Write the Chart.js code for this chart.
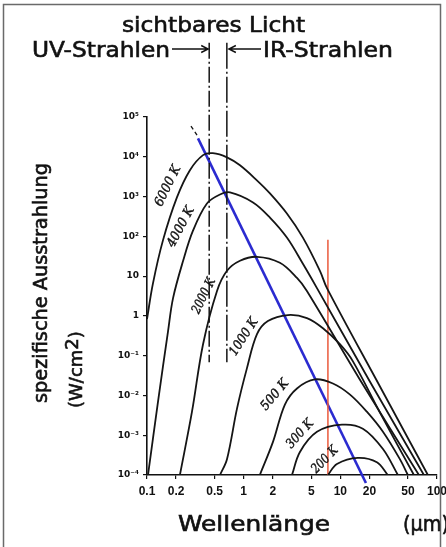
<!DOCTYPE html>
<html>
<head>
<meta charset="utf-8">
<script src="https://cdn.jsdelivr.net/npm/chart.js@4.4.1/dist/chart.umd.min.js"></script>
<style>
  html, body { margin: 0; padding: 0; background: #fff; }
  canvas { display: block; }
</style>
</head>
<body>
<canvas id="chart" width="446" height="547"></canvas>
<script>
// Axis ticks
const xTicks = [0.1, 0.2, 0.5, 1, 2, 5, 10, 20, 50, 100];
const xTickLabels = ["0.1", "0.2", "0.5", "1", "2", "5", "10", "20", "50", "100"];
const yTicks = [1e-4, 1e-3, 1e-2, 1e-1, 1, 10, 1e2, 1e3, 1e4, 1e5];
const yTickLabels = ["10⁻⁴", "10⁻³", "10⁻²", "10⁻¹", "1", "10", "10²", "10³", "10⁴", "10⁵"];

// Temperature labels of the curves
const temps = ["6000 K", "4000 K", "2000 K", "1000 K", "500 K", "300 K", "200 K"];

// Wavelength (µm) and spectral exitance (W/cm²)
const wl6000 = [0.1, 0.115, 0.146, 0.204, 0.278, 0.38, 0.48, 0.672, 0.916, 1.37, 1.87, 2.8, 4.1, 6.15, 7.27, 25.7, 80.5];
const val6000 = [0.83, 6.4, 78, 950, 4600, 1.1e4, 1.23e4, 9.7e3, 6.1e3, 2560, 1200, 374, 93, 13.6, 5.0, 0.0168, 1e-4];
const wl4000 = [0.1024, 0.13, 0.165, 0.186, 0.236, 0.299, 0.417, 0.569, 0.722, 1.25, 1.87, 2.8, 4.1, 5.73, 20.2, 73.2];
const val4000 = [1e-4, 0.007, 0.41, 2.8, 24, 139, 670, 1130, 1270, 710, 296, 93, 20.4, 5.0, 0.0225, 1e-4];
const wl2000 = [0.219, 0.292, 0.38, 0.53, 0.672, 0.916, 1.373, 2.37, 3.56, 4.51, 15.9, 65];
const val2000 = [1e-4, 0.0039, 0.194, 4.24, 13.6, 24.3, 30.6, 21.6, 9.0, 4.24, 0.0253, 1e-4];
const wl1000 = [0.569, 0.672, 0.853, 1.08, 1.373, 1.78, 2.87, 4.51, 6.61, 9.9, 13.5, 25.7, 57.7];
const val1000 = [1e-4, 2.5e-4, 0.00467, 0.0479, 0.347, 0.74, 1.05, 0.88, 0.49, 0.194, 0.072, 0.0037, 1e-4];
const wl500 = [1.47, 2.01, 2.67, 3.56, 5.46, 8.38, 12.6, 18.8, 27.6, 41.3, 50];
const val500 = [1e-4, 6.8e-4, 0.0059, 0.015, 0.0253, 0.02, 0.0105, 0.0039, 0.00122, 2.5e-4, 1e-4];
const wl300 = [3.16, 3.82, 5.73, 10.4, 17.1, 27.6, 39.4];
const val300 = [1e-4, 3.8e-4, 0.00122, 0.00184, 0.00146, 4.5e-4, 1e-4];
const wl200 = [7.44, 9.22, 15.2, 23.9, 31];
const val200 = [1e-4, 1.9e-4, 2.7e-4, 2.1e-4, 1e-4];

// Wien displacement line (blue) and its dashed start
const wienWl = [0.337, 18.4];
const wienVal = [2.9e4, 6.3e-5];
const wienDashWl = [0.285, 0.329];
const wienDashVal = [5.9e4, 3.5e4];

// Bounds of visible light (dash-dot verticals)
const visibleWl = [0.44, 0.67];
const visibleRange = [7.4e6, 0.068];

// Red marker line
const markerWl = 7.44;
const markerRange = [82, 1e-4];

const pts = (xs, ys) => xs.map((x, i) => ({ x: x, y: ys[i] }));

function curve(xs, ys) {
  return {
    data: pts(xs, ys),
    borderColor: "#151515",
    borderWidth: 1.8,
    pointRadius: 0,
    tension: 0.35,
  };
}

const datasets = [
  curve(wl6000, val6000),
  curve(wl4000, val4000),
  curve(wl2000, val2000),
  curve(wl1000, val1000),
  curve(wl500, val500),
  curve(wl300, val300),
  curve(wl200, val200),
  {
    data: pts([visibleWl[0], visibleWl[0]], visibleRange),
    borderColor: "#151515", borderWidth: 1.5, pointRadius: 0,
    borderDash: [16, 3, 2, 3], clip: false,
  },
  {
    data: pts([visibleWl[1], visibleWl[1]], visibleRange),
    borderColor: "#151515", borderWidth: 1.5, pointRadius: 0,
    borderDash: [26, 3, 2, 3], clip: false,
  },
  {
    data: pts([markerWl, markerWl], markerRange),
    borderColor: "#ea5a3c", borderWidth: 1.5, pointRadius: 0, clip: false,
  },
  {
    data: pts(wienDashWl, wienDashVal),
    borderColor: "#151515", borderWidth: 1.3, pointRadius: 0,
    borderDash: [4, 3], clip: false,
  },
  {
    data: pts(wienWl, wienVal),
    borderColor: "#2b2bd0", borderWidth: 2.6, pointRadius: 0, clip: false,
  },
];

// Draw text stretched to a given width, slightly emboldened like the scan
function fitText(ctx, text, x, y, width, font) {
  ctx.save();
  ctx.font = font;
  const s = width / ctx.measureText(text).width;
  ctx.translate(x, y);
  ctx.scale(s, 1);
  ctx.lineWidth = 0.6;
  ctx.fillText(text, 0, 0);
  ctx.strokeText(text, 0, 0);
  ctx.restore();
}

function arrow(ctx, x1, x2, y) {
  const dir = Math.sign(x2 - x1);
  ctx.beginPath();
  ctx.moveTo(x1, y);
  ctx.lineTo(x2, y);
  ctx.moveTo(x2 - dir * 7, y - 3.5);
  ctx.lineTo(x2, y);
  ctx.lineTo(x2 - dir * 7, y + 3.5);
  ctx.stroke();
}

// [px, py, angle in degrees, width] for the temperature labels
const tempLabelPos = [
  [168, 186, -64, 44],
  [181, 227, -62, 44],
  [204, 296, -64, 38],
  [244, 337, -57, 42],
  [275, 395, -50, 36],
  [300, 434, -48, 34],
  [325, 460, -46, 32],
];

const annotations = {
  id: "annotations",
  afterDraw(chart) {
    const ctx = chart.ctx;
    const xs = chart.scales.x;

    // frame
    ctx.save();
    ctx.strokeStyle = "#6a6a6a";
    ctx.lineWidth = 1.5;
    ctx.beginPath();
    ctx.moveTo(3.5, 547);
    ctx.lineTo(3.5, 4.5);
    ctx.lineTo(440.5, 4.5);
    ctx.lineTo(440.5, 547);
    ctx.stroke();
    ctx.restore();

    ctx.save();
    ctx.fillStyle = "#111";
    ctx.strokeStyle = "#111";
    ctx.lineWidth = 1.4;
    ctx.textBaseline = "alphabetic";
    ctx.textAlign = "left";

    fitText(ctx, "sichtbares Licht", 122, 32, 183, "21px 'DejaVu Sans'");
    fitText(ctx, "UV-Strahlen", 32, 57, 138, "21px 'DejaVu Sans'");
    fitText(ctx, "IR-Strahlen", 263, 57, 130, "21px 'DejaVu Sans'");
    const xl = xs.getPixelForValue(visibleWl[0]);
    const xr = xs.getPixelForValue(visibleWl[1]);
    ctx.lineWidth = 1.4;
    arrow(ctx, 172, xl - 1, 49);
    arrow(ctx, 261, xr + 2, 49);

    // y title, two rotated lines
    ctx.save();
    ctx.translate(47, 403);
    ctx.rotate(-Math.PI / 2);
    fitText(ctx, "spezifische Ausstrahlung", 0, 0, 240, "19px 'DejaVu Sans'");
    ctx.restore();
    ctx.save();
    ctx.translate(82, 408);
    ctx.rotate(-Math.PI / 2);
    ctx.font = "18px 'DejaVu Sans'";
    ctx.lineWidth = 0.6;
    const w1 = ctx.measureText("(W/cm").width;
    const w2 = ctx.measureText("2").width;
    ctx.fillText("(W/cm", 0, 0);
    ctx.strokeText("(W/cm", 0, 0);
    ctx.fillText("2", w1, -4);
    ctx.strokeText("2", w1, -4);
    ctx.fillText(")", w1 + w2, 0);
    ctx.strokeText(")", w1 + w2, 0);
    ctx.restore();

    // x title
    fitText(ctx, "Wellenlänge", 178, 531, 152, "21px 'DejaVu Sans'");
    fitText(ctx, "(μm)", 403, 531, 46, "21px 'DejaVu Sans'");

    // temperature labels along the curves
    temps.forEach((t, i) => {
      const [px, py, ang, w] = tempLabelPos[i];
      ctx.save();
      ctx.translate(px, py);
      ctx.rotate(ang * Math.PI / 180);
      ctx.textAlign = "left";
      ctx.textBaseline = "middle";
      ctx.font = "italic 13px 'DejaVu Serif'";
      const tw = ctx.measureText(t).width;
      ctx.scale(w / tw, 1);
      ctx.lineWidth = 0.4;
      ctx.fillText(t, -tw / 2, 0);
      ctx.strokeText(t, -tw / 2, 0);
      ctx.restore();
    });
    ctx.restore();
  },
};

new Chart(document.getElementById("chart"), {
  type: "line",
  data: { datasets: datasets },
  plugins: [annotations],
  options: {
    responsive: false,
    animation: false,
    devicePixelRatio: 1,
    events: [],
    layout: { padding: { left: 0, top: 117, right: 9, bottom: 0 } },
    plugins: {
      legend: { display: false },
      tooltip: { enabled: false },
    },
    scales: {
      x: {
        type: "logarithmic",
        position: "bottom",
        min: 0.1,
        max: 100,
        afterBuildTicks: (scale) => { scale.ticks = xTicks.map((v) => ({ value: v })); },
        afterFit: (scale) => {
          scale.height = 72;
          scale.paddingLeft = 0;
          scale.paddingRight = 0;
        },
        grid: { drawOnChartArea: false, tickLength: 4, color: "#111", lineWidth: 1.2 },
        border: { color: "#111", width: 1.6 },
        ticks: {
          autoSkip: false,
          maxRotation: 0,
          padding: 5,
          color: "#111",
          font: { family: "'Liberation Sans'", size: 12, weight: "bold" },
          callback: (v) => xTickLabels[xTicks.indexOf(v)],
        },
      },
      y: {
        type: "logarithmic",
        min: 1e-4,
        max: 1e5,
        afterBuildTicks: (scale) => { scale.ticks = yTicks.map((v) => ({ value: v })); },
        afterFit: (scale) => {
          scale.width = 147;
          scale.paddingTop = 0;
          scale.paddingBottom = 0;
        },
        grid: { drawOnChartArea: false, tickLength: 4, color: "#111", lineWidth: 1.2 },
        border: { color: "#111", width: 1.6 },
        ticks: {
          autoSkip: false,
          padding: 4,
          color: "#111",
          font: { family: "'DejaVu Sans'", size: 9, weight: "bold" },
          callback: (v) => yTickLabels[yTicks.indexOf(v)],
        },
      },
    },
  },
});
</script>
</body>
</html>
